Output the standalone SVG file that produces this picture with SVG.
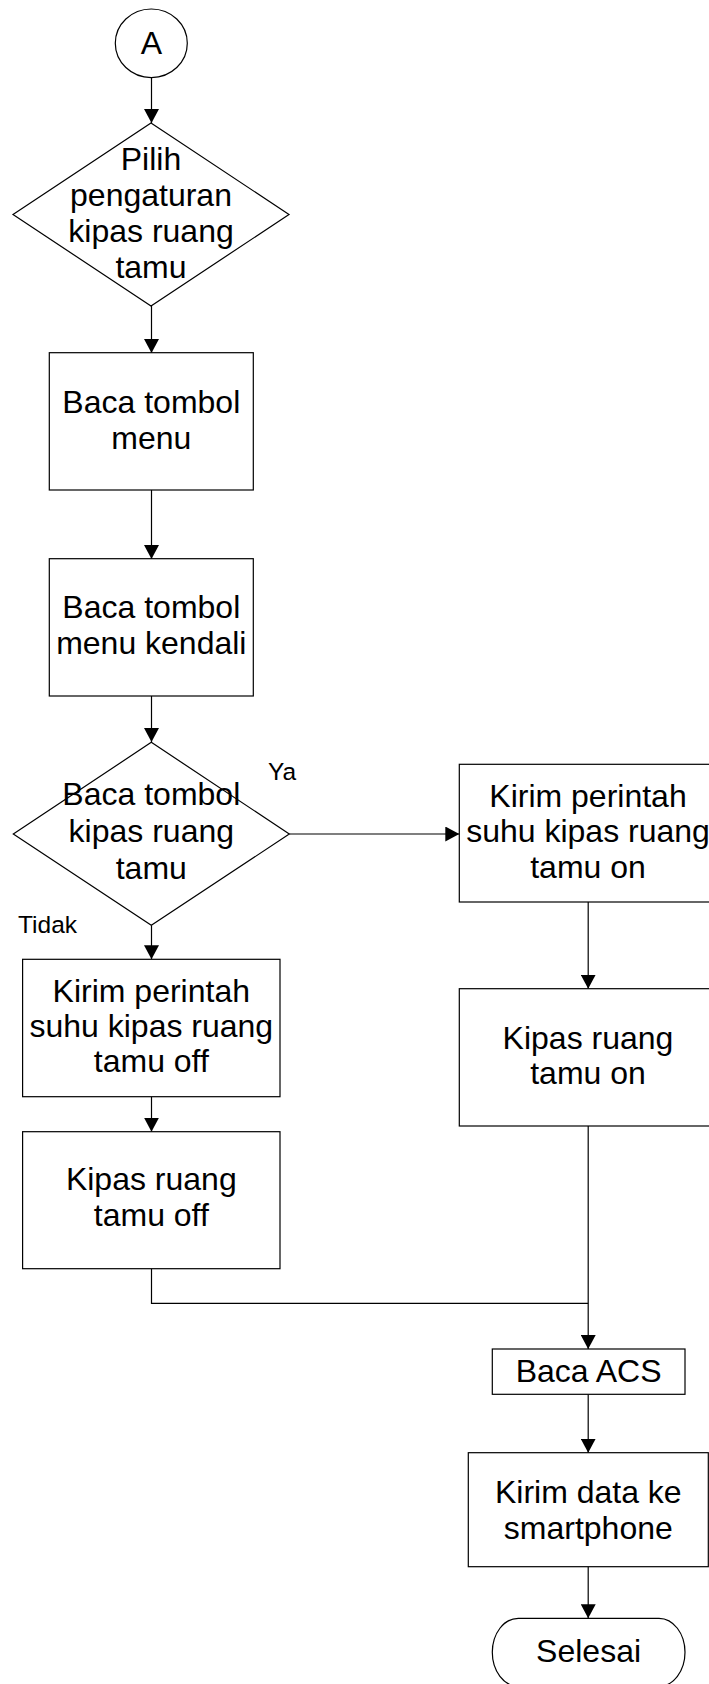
<svg xmlns="http://www.w3.org/2000/svg" width="709" height="1684" viewBox="0 0 709 1684">
<style>
.s{fill:#fff;stroke:#000;stroke-width:1.2}
.t{font-family:"Liberation Sans",Arial,sans-serif;font-size:32px;fill:#000;text-anchor:middle}
.l{font-family:"Liberation Sans",Arial,sans-serif;font-size:24.5px;fill:#000}
.c{fill:none;stroke:#000;stroke-width:1.2}
</style>
<defs>
<marker id="ah" markerUnits="userSpaceOnUse" markerWidth="15" markerHeight="15" refX="14" refY="7.5" orient="auto">
<path d="M0,0 L14,7.5 L0,15 Z" fill="#000"/>
</marker>
</defs>
<g id="connectors">
<path class="c" d="M151.5,78 V123" marker-end="url(#ah)"/>
<path class="c" d="M151.5,306 V353" marker-end="url(#ah)"/>
<path class="c" d="M151.5,490 V559" marker-end="url(#ah)"/>
<path class="c" d="M151.5,696 V742" marker-end="url(#ah)"/>
<path class="c" d="M289.3,834 H459.3" marker-end="url(#ah)"/>
<path class="c" d="M151.5,925.3 V959.3" marker-end="url(#ah)"/>
<path class="c" d="M151.5,1096.7 V1131.7" marker-end="url(#ah)"/>
<path class="c" d="M588.2,902 V988.7" marker-end="url(#ah)"/>
<path class="c" d="M151.5,1268.7 V1303.3 H588.2"/>
<path class="c" d="M588.2,1126 V1349" marker-end="url(#ah)"/>
<path class="c" d="M588.2,1394.3 V1452.7" marker-end="url(#ah)"/>
<path class="c" d="M588.2,1566.7 V1618.3" marker-end="url(#ah)"/>
<text class="l" x="268" y="780">Ya</text>
<text class="l" x="18" y="933">Tidak</text>
</g>
<g id="start">
<ellipse class="s" cx="151.3" cy="43.3" rx="36" ry="34.3"/>
<text class="t" x="151.3" y="54">A</text>
</g>
<g id="pilih">
<polygon class="s" points="151,123 289,214.5 151,306 13,214.5"/>
<text class="t" x="151" y="170">Pilih</text>
<text class="t" x="151" y="206">pengaturan</text>
<text class="t" x="151" y="242">kipas ruang</text>
<text class="t" x="151" y="277.5">tamu</text>
</g>
<g id="menu">
<rect class="s" x="49.3" y="352.7" width="204" height="137.3"/>
<text class="t" x="151.3" y="413">Baca tombol</text>
<text class="t" x="151.3" y="449">menu</text>
</g>
<g id="kendali">
<rect class="s" x="49.3" y="558.7" width="204" height="137.3"/>
<text class="t" x="151.3" y="617.5">Baca tombol</text>
<text class="t" x="151.3" y="654">menu kendali</text>
</g>
<g id="cek">
<polygon class="s" points="151.3,742.3 289.3,834 151.3,925.3 13.3,834"/>
<text class="t" x="151.3" y="805">Baca tombol</text>
<text class="t" x="151.3" y="842">kipas ruang</text>
<text class="t" x="151.3" y="878.5">tamu</text>
</g>
<g id="kirim-on">
<rect class="s" x="459.3" y="764.3" width="258" height="137.7"/>
<text class="t" x="588" y="806.5">Kirim perintah</text>
<text class="t" x="588" y="842">suhu kipas ruang</text>
<text class="t" x="588" y="877.5">tamu on</text>
</g>
<g id="kipas-on">
<rect class="s" x="459.3" y="988.7" width="258" height="137.3"/>
<text class="t" x="588" y="1048.5">Kipas ruang</text>
<text class="t" x="588" y="1084">tamu on</text>
</g>
<g id="kirim-off">
<rect class="s" x="22.6" y="959.3" width="257.4" height="137.4"/>
<text class="t" x="151.3" y="1001.7">Kirim perintah</text>
<text class="t" x="151.3" y="1036.7">suhu kipas ruang</text>
<text class="t" x="151.3" y="1072">tamu off</text>
</g>
<g id="kipas-off">
<rect class="s" x="22.6" y="1131.7" width="257.4" height="137"/>
<text class="t" x="151.3" y="1190">Kipas ruang</text>
<text class="t" x="151.3" y="1226">tamu off</text>
</g>
<g id="acs">
<rect class="s" x="492.3" y="1349" width="192.7" height="45.3"/>
<text class="t" x="588.6" y="1381.7">Baca ACS</text>
</g>
<g id="kirim-data">
<rect class="s" x="468.3" y="1452.7" width="240" height="114"/>
<text class="t" x="588.3" y="1502.7">Kirim data ke</text>
<text class="t" x="588.3" y="1539.3">smartphone</text>
</g>
<g id="selesai">
<rect class="s" x="492.3" y="1618.3" width="192.7" height="68" rx="26" ry="34"/>
<text class="t" x="588.6" y="1661.7">Selesai</text>
</g>
</svg>
